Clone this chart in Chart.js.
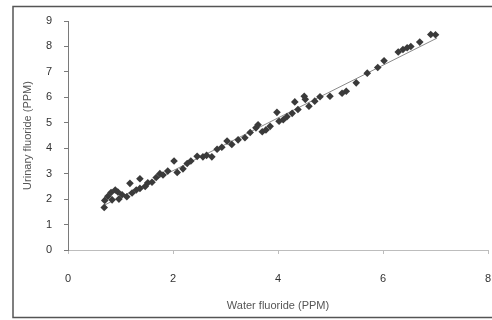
<!DOCTYPE html>
<html>
    <head>
        <script src="https://cdn.jsdelivr.net/npm/chart.js@4/dist/chart.umd.min.js"></script>
        <style>
            html, body { margin: 0; padding: 0; overflow: hidden; background: #fff; }
            #wrap { width: 492px; height: 320px; position: relative; }
            canvas { display: block; }
        </style>
    </head>
    <body>
        <div id="wrap"><canvas id="myChart"></canvas></div>
        <script>
        // water fluoride (x) and urinary fluoride (y), ppm
        var waterF = [0.69,0.70,0.76,0.82,0.84,0.90,0.95,0.97,1.03,1.12,1.18,1.22,1.30,1.37,1.37,1.47,1.52,1.60,1.68,1.75,
            1.81,1.90,2.02,2.08,2.19,2.27,2.34,2.46,2.57,2.64,2.74,2.84,2.93,3.03,3.12,3.24,3.37,3.47,3.58,3.62,
            3.70,3.77,3.85,3.98,4.02,4.10,4.17,4.27,4.32,4.38,4.50,4.52,4.59,4.70,4.80,4.99,5.22,5.30,5.49,5.70,
            5.90,6.02,6.29,6.38,6.46,6.53,6.70,6.91,7.00];
        var urinaryF = [1.67,1.95,2.11,2.26,1.97,2.36,2.28,2.00,2.17,2.09,2.62,2.24,2.36,2.80,2.42,2.50,2.64,2.66,2.85,3.00,
            2.95,3.10,3.50,3.05,3.19,3.40,3.50,3.68,3.66,3.72,3.66,3.96,4.04,4.28,4.15,4.33,4.41,4.62,4.80,4.92,
            4.65,4.72,4.86,5.41,5.06,5.12,5.24,5.37,5.82,5.52,6.04,5.92,5.65,5.85,6.02,6.04,6.16,6.24,6.57,6.95,
            7.17,7.44,7.78,7.88,7.95,8.00,8.17,8.47,8.46];
        // fitted trend line end points
        var trendX = [0.70, 7.03];
        var trendY = [1.77, 8.33];

        var xTicks = [0, 2, 4, 6, 8];
        var yTicks = [0, 1, 2, 3, 4, 5, 6, 7, 8, 9];

        var points = [];
        for (var i = 0; i < waterF.length; i++) {
            points.push({x: waterF[i], y: urinaryF[i]});
        }
        var trend = [];
        for (var j = 0; j < trendX.length; j++) {
            trend.push({x: trendX[j], y: trendY[j]});
        }

        var frame = {
            id: 'frame',
            beforeDraw: function(chart) {
                var c = chart.ctx;
                c.save();
                c.fillStyle = '#fff';
                c.fillRect(0, 0, chart.width, chart.height);
                c.strokeStyle = '#555';
                c.lineWidth = 1.5;
                c.strokeRect(13, 6.5, 480, 311);
                c.restore();
            }
        };

        var font = {family: 'Arial, "Liberation Sans", sans-serif', size: 11};

        var myChart = new Chart(document.getElementById('myChart'), {
            type: 'scatter',
            data: {
                datasets: [
                {
                    label: 'Trend',
                    data: trend,
                    showLine: true,
                    borderColor: '#8a8a8a',
                    borderWidth: 1,
                    pointRadius: 0,
                    order: 2
                },
                {
                    label: 'Urinary fluoride',
                    data: points,
                    pointStyle: 'rectRot',
                    pointRadius: 3.8,
                    backgroundColor: '#3a3a3a',
                    borderColor: '#3a3a3a',
                    borderWidth: 0,
                    order: 1
                }
                ]
            },
            options: {
                responsive: true,
                maintainAspectRatio: false,
                animation: false,
                layout: { padding: { left: 0, top: 21, right: 4, bottom: 0 } },
                plugins: { legend: { display: false }, tooltip: { enabled: false } },
                scales: {
                    x: {
                        min: 0, max: 8,
                        afterBuildTicks: function(s) { s.ticks = xTicks.map(function(v) { return {value: v}; }); },
                        afterFit: function(s) { s.height = 70; s.paddingLeft = 0; s.paddingRight = 0; },
                        border: { color: '#bdbdbd', width: 1 },
                        grid: { drawOnChartArea: false, tickLength: 4, color: '#bdbdbd' },
                        ticks: { color: '#333', font: font, padding: 18, maxRotation: 0 },
                        title: { display: true, text: 'Water fluoride (PPM)', color: '#555', font: font, padding: { top: 0, bottom: 7 } }
                    },
                    y: {
                        min: 0, max: 9,
                        afterBuildTicks: function(s) { s.ticks = yTicks.map(function(v) { return {value: v}; }); },
                        afterFit: function(s) { s.width = 68; },
                        border: { color: '#7a7a7a', width: 1 },
                        grid: { drawOnChartArea: false, tickLength: 4, color: '#7a7a7a' },
                        ticks: { color: '#333', font: font, padding: 12 },
                        title: { display: true, text: 'Urinary fluoride (PPM)', color: '#555', font: font, padding: { top: 21, bottom: 0 } }
                    }
                }
            },
            plugins: [frame]
        });
        </script>
    </body>
</html>
